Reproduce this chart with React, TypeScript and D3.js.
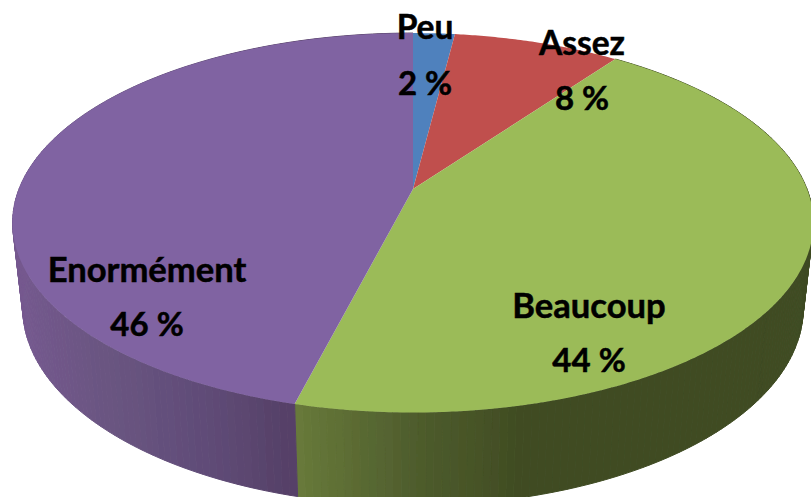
import React from "react";
import * as d3 from "d3";

const categories = ["Peu", "Assez", "Beaucoup", "Enormément"];
const values = [2, 8, 44, 46];
const valueLabels = ["2 %", "8 %", "44 %", "46 %"];
const topColors = ["#4F81BD", "#C0504D", "#9BBB59", "#8064A2"];

const labelCentres: [number, number, number][] = [
  [425, 39, 95],
  [582, 55, 110],
  [589, 318, 372],
  [147, 282, 336],
];

const W = 811, H = 497;
const cx = 413, cy = 189, rx = 394, ry = 183.7, k = 0.178;
const cyB = 273, ryB = 191, rxB = 384;

type P = [number, number];
const topPt = (a: number): P => {
  const sn = Math.sin(a), s = -Math.cos(a), d = 1 - k * s;
  return [cx + (rx * sn) / d, cy + (ry * s) / d];
};
const botPt = (a: number): P => {
  const sn = Math.sin(a), s = -Math.cos(a), d = 1 - k * s;
  return [cx + (rxB * sn) / d, cyB + (ryB * s) / d];
};

const line = d3.line<P>().x(d => d[0]).y(d => d[1]);
const sample = (a0: number, a1: number, step = Math.PI / 180): number[] => {
  const n = Math.max(2, Math.ceil((a1 - a0) / step));
  return d3.range(n + 1).map(i => a0 + ((a1 - a0) * i) / n);
};

const purpleSide = d3.scaleLinear<string>().domain([14, 100, 200, 296]).range(["#75598f", "#6a5581", "#604c78", "#553f66"]).clamp(true);
const greenSide = d3.scaleLinear<string>().domain([298, 411, 530, 811]).range(["#67793a", "#4f5d2d", "#3f4b22", "#3f4b22"]).clamp(true);
const sideColor = [() => "#000", () => "#000", greenSide, purpleSide];

const arcs = d3.pie<number>().sort(null)(values);

export default function App() {
  const quads: React.ReactNode[] = [];
  arcs.forEach((arc, i) => {
    if (i < 2) return;
    const as = sample(arc.startAngle, arc.endAngle);
    for (let j = 0; j < as.length - 1; j++) {
      const a0 = as[j], a1 = as[j + 1];
      const pts: P[] = [topPt(a0), topPt(a1), botPt(a1), botPt(a0)];
      const col = sideColor[i]((pts[0][0] + pts[1][0]) / 2);
      quads.push(<path key={`${i}-${j}`} d={line(pts)! + "Z"} fill={col} stroke={col} strokeWidth={1} />);
    }
  });
  return (
    <svg width={W} height={H} style={{ position: "absolute", left: 0, top: 0, background: "#fff" }}>
      <defs>
        <filter id="soft" x="-2%" y="-2%" width="104%" height="104%">
          <feGaussianBlur stdDeviation="0.5" />
        </filter>
      </defs>
      <g filter="url(#soft)">
        {quads}
        {arcs.map((arc, i) => {
          const pts: P[] = [[cx, cy], ...sample(arc.startAngle, arc.endAngle, Math.PI / 360).map(topPt)];
          return <path key={categories[i]} d={line(pts)! + "Z"} fill={topColors[i]} />;
        })}
      </g>
      <g fontFamily="Lato" fontWeight={700} textAnchor="middle" fill="#000" stroke="#000" strokeWidth={0.5}>
        {categories.map((c, i) => (
          <g key={c}>
            <text x={labelCentres[i][0]} y={labelCentres[i][1]} fontSize={i < 2 ? 33.5 : 34.6}>{c}</text>
            <text x={labelCentres[i][0]} y={labelCentres[i][2]} fontSize={33}>{valueLabels[i]}</text>
          </g>
        ))}
      </g>
    </svg>
  );
}
